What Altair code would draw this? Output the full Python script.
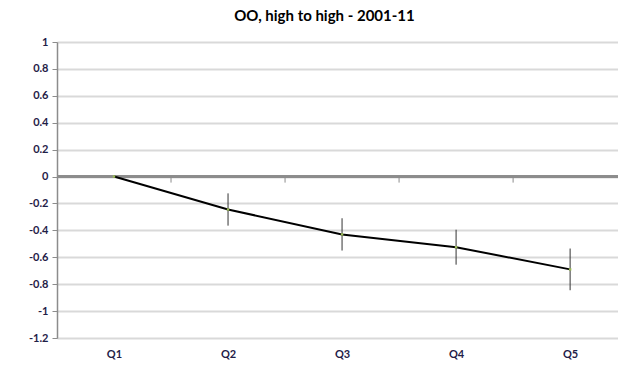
import altair as alt
import pandas as pd

# Quintile estimates with their error half-widths
quintiles = ["Q1", "Q2", "Q3", "Q4", "Q5"]
estimates = [0.0, -0.245, -0.43, -0.525, -0.69]
errors = [0.0, 0.12, 0.12, 0.13, 0.155]
y_ticks = [1, 0.8, 0.6, 0.4, 0.2, 0, -0.2, -0.4, -0.6, -0.8, -1, -1.2]
# Category boundaries where the zero axis carries tick marks
boundaries = [1.5, 2.5, 3.5, 4.5]

df = pd.DataFrame({
    "pos": list(range(1, len(quintiles) + 1)),
    "label": quintiles,
    "est": estimates,
    "lo": [e - d for e, d in zip(estimates, errors)],
    "hi": [e + d for e, d in zip(estimates, errors)],
})
bdf = pd.DataFrame({"b": boundaries, "zero": [0.0] * len(boundaries)})

FONT = "Lato"
LABEL_COLOR = "#1f2147"

x_scale = alt.Scale(domain=[0.5, 5.42], nice=False, zero=False)
y_scale = alt.Scale(domain=[-1.2, 1], nice=False, zero=False)

label_expr = "datum.value == 1 ? 'Q1' : datum.value == 2 ? 'Q2' : datum.value == 3 ? 'Q3' : datum.value == 4 ? 'Q4' : 'Q5'"

x_axis = alt.Axis(values=[1, 2, 3, 4, 5], labelExpr=label_expr, grid=False,
                  domain=False, ticks=False, labelFont=FONT, labelFontWeight="bold",
                  labelFontSize=11, labelColor=LABEL_COLOR, labelPadding=10,
                  labelOverlap=False, title=None)

y_axis = alt.Axis(values=y_ticks, grid=True, gridColor="#d9d9d9", gridWidth=2,
                  domain=True, domainColor="#8c8c8c", domainWidth=1.5,
                  ticks=True, tickSize=5, tickColor="#8c8c8c",
                  labelFont=FONT, labelFontWeight="bold", labelFontSize=11,
                  labelColor=LABEL_COLOR, labelPadding=4,
                  labelOverlap=False, labelBound=False, labelFlush=False,
                  labelExpr="replace(format(datum.value, '.1~f'), '\u2212', '-')",
                  title=None)

base = alt.Chart(df)

zero_line = alt.Chart(bdf).mark_rule(color="#8c8c8c", strokeWidth=2.5).encode(
    x=alt.value(0), x2=alt.value(561),
    y=alt.Y("zero:Q", scale=y_scale, axis=y_axis),
)

zero_ticks = alt.Chart(bdf).mark_rule(color="#8c8c8c", strokeWidth=1).encode(
    x=alt.X("b:Q", scale=x_scale, axis=x_axis),
    y=alt.Y("zero:Q", scale=y_scale, axis=y_axis),
    y2=alt.Y2Datum(-0.045),
)

err = base.transform_filter("datum.pos > 1").mark_rule(color="#333333", strokeWidth=1).encode(
    x=alt.X("pos:Q", scale=x_scale, axis=x_axis),
    y=alt.Y("lo:Q", scale=y_scale, axis=y_axis),
    y2="hi:Q",
)

line = base.mark_line(color="#000000", strokeWidth=2).encode(
    x=alt.X("pos:Q", scale=x_scale, axis=x_axis),
    y=alt.Y("est:Q", scale=y_scale, axis=y_axis),
)

pts = base.mark_point(shape="square", filled=True, size=6, color="#9bbb59", opacity=1).encode(
    x=alt.X("pos:Q", scale=x_scale, axis=x_axis),
    y=alt.Y("est:Q", scale=y_scale, axis=y_axis),
)

chart = alt.layer(zero_line, zero_ticks, err, line, pts).properties(
    width=561,
    height=296,
    autosize=alt.AutoSizeParams(type="none"),
    padding={"left": 57, "top": 42, "right": 0, "bottom": 32},
    title=alt.TitleParams(
        "OO, high to high - 2001-11", font=FONT, fontSize=15, fontWeight="bold",
        color="#000000", anchor="middle", dx=-13, offset=12,
    ),
).configure_view(stroke=None).configure(background="white")

chart.save("out.html", embed_options={"renderer": "svg", "actions": False})
